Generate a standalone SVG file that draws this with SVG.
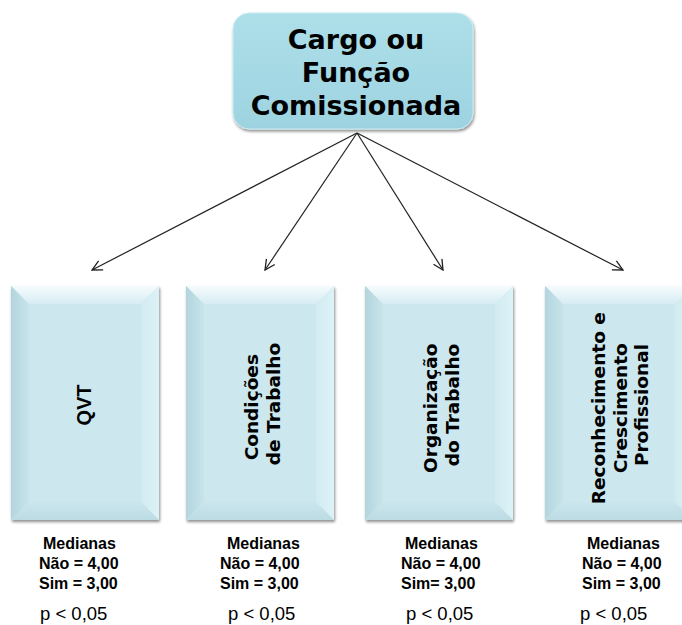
<svg xmlns="http://www.w3.org/2000/svg" width="682" height="625" viewBox="0 0 682 625">
<defs>
  <linearGradient id="topFill" x1="0" y1="0" x2="0" y2="1">
    <stop offset="0" stop-color="#addfe9"/>
    <stop offset="1" stop-color="#9dd3e0"/>
  </linearGradient>
  <linearGradient id="bevTop" x1="0" y1="0" x2="0" y2="1">
    <stop offset="0" stop-color="#f6fbfd"/>
    <stop offset="1" stop-color="#d6edf3"/>
  </linearGradient>
  <linearGradient id="bevLeft" x1="0" y1="0" x2="1" y2="0">
    <stop offset="0" stop-color="#b3d5de"/>
    <stop offset="1" stop-color="#c8e4eb"/>
  </linearGradient>
  <linearGradient id="bevRight" x1="0" y1="0" x2="1" y2="0">
    <stop offset="0" stop-color="#d2ebf1"/>
    <stop offset="1" stop-color="#dcf2f7"/>
  </linearGradient>
  <linearGradient id="bevBot" x1="0" y1="0" x2="0" y2="1">
    <stop offset="0" stop-color="#cbe6ed"/>
    <stop offset="1" stop-color="#bcdbe3"/>
  </linearGradient>
  <filter id="shadow" x="-10%" y="-10%" width="120%" height="120%">
    <feGaussianBlur in="SourceAlpha" stdDeviation="1.5"/>
    <feOffset dx="1" dy="2" result="b"/>
    <feComponentTransfer><feFuncA type="linear" slope="0.45"/></feComponentTransfer>
    <feMerge><feMergeNode/><feMergeNode in="SourceGraphic"/></feMerge>
  </filter>
  <marker id="arr" viewBox="0 0 12 12" refX="11" refY="6" markerWidth="12" markerHeight="12" markerUnits="userSpaceOnUse" orient="auto">
    <path d="M1,1 L11,6 L1,11" fill="none" stroke="#222" stroke-width="1.3"/>
  </marker>
  <g id="bevelBox">
    <rect x="0" y="0" width="148" height="234" fill="#cde7ee"/>
    <polygon points="0,0 148,0 130,18 18,18" fill="url(#bevTop)"/>
    <polygon points="0,0 18,18 18,216 0,234" fill="url(#bevLeft)"/>
    <polygon points="148,0 148,234 130,216 130,18" fill="url(#bevRight)"/>
    <polygon points="0,234 18,216 130,216 148,234" fill="url(#bevBot)"/>
  </g>
</defs>
<style>
  .title { font-family: "DejaVu Sans", Verdana, sans-serif; font-weight: bold; font-size: 27px; fill: #000; }
  .vlab { font-family: "DejaVu Sans", Verdana, sans-serif; font-weight: bold; font-size: 18.5px; fill: #000; }
  .qvt { font-family: "Liberation Sans", Arial, sans-serif; font-weight: bold; font-size: 20px; fill: #000; }
  .med { font-family: "Liberation Sans", Arial, sans-serif; font-weight: bold; font-size: 16px; fill: #000; }
  .p { font-family: "Liberation Sans", Arial, sans-serif; font-size: 18.5px; fill: #000; }
  .conn { stroke: #222; stroke-width: 1.2; fill: none; marker-end: url(#arr); }
</style>
<rect width="682" height="625" fill="#ffffff"/>

<g id="connectors">
  <line class="conn" x1="357" y1="133" x2="92" y2="270"/>
  <line class="conn" x1="357" y1="133" x2="265" y2="270"/>
  <line class="conn" x1="357" y1="133" x2="443" y2="270"/>
  <line class="conn" x1="357" y1="133" x2="623" y2="270"/>
</g>

<g id="cargo">
  <rect x="233" y="13" width="240" height="116" rx="16" ry="16" fill="url(#topFill)" stroke="#c9ebf2" stroke-width="1" filter="url(#shadow)"/>
  <text class="title" text-anchor="middle" x="356" y="49">Cargo ou</text>
  <text class="title" text-anchor="middle" x="356" y="82">Função</text>
  <text class="title" text-anchor="middle" x="356" y="115">Comissionada</text>
</g>

<g id="qvt">
  <use href="#bevelBox" x="11" y="286" filter="url(#shadow)"/>
  <text class="qvt" text-anchor="middle" transform="translate(91,405) rotate(-90)" x="0" y="0">QVT</text>
</g>

<g id="condicoes">
  <use href="#bevelBox" x="186" y="286" filter="url(#shadow)"/>
  <text class="vlab" text-anchor="middle" transform="translate(258,404) rotate(-90)">
    <tspan x="0" y="0">Condições</tspan>
    <tspan x="0" y="22">de Trabalho</tspan>
  </text>
</g>

<g id="organizacao">
  <use href="#bevelBox" x="365" y="286" filter="url(#shadow)"/>
  <text class="vlab" text-anchor="middle" transform="translate(437,405) rotate(-90)">
    <tspan x="0" y="0">Organização</tspan>
    <tspan x="0" y="22">do Trabalho</tspan>
  </text>
</g>

<g id="reconhecimento">
  <use href="#bevelBox" x="545" y="286" filter="url(#shadow)"/>
  <text class="vlab" text-anchor="middle" transform="translate(605,405) rotate(-90)">
    <tspan x="0" y="0">Reconhecimento e</tspan>
    <tspan x="0" y="22">Crescimento</tspan>
    <tspan x="0" y="43">Profissional</tspan>
  </text>
</g>

<g id="stats1">
  <text class="med" x="43" y="549">Medianas</text>
  <text class="med" x="39" y="569">Não = 4,00</text>
  <text class="med" x="39" y="589">Sim = 3,00</text>
  <text class="p" x="40" y="620">p &lt; 0,05</text>
</g>
<g id="stats2">
  <text class="med" x="227" y="549">Medianas</text>
  <text class="med" x="220" y="569">Não = 4,00</text>
  <text class="med" x="220" y="589">Sim = 3,00</text>
  <text class="p" x="228" y="620">p &lt; 0,05</text>
</g>
<g id="stats3">
  <text class="med" x="405" y="549">Medianas</text>
  <text class="med" x="401" y="569">Não = 4,00</text>
  <text class="med" x="401" y="589">Sim= 3,00</text>
  <text class="p" x="406" y="620">p &lt; 0,05</text>
</g>
<g id="stats4">
  <text class="med" x="587" y="549">Medianas</text>
  <text class="med" x="582" y="569">Não = 4,00</text>
  <text class="med" x="582" y="589">Sim = 3,00</text>
  <text class="p" x="580" y="620">p &lt; 0,05</text>
</g>
</svg>
